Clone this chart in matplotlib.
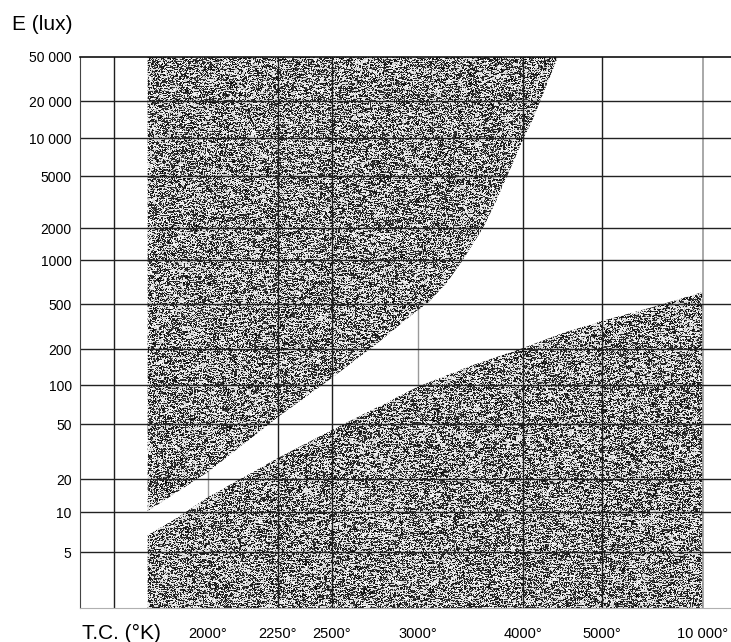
import numpy as np
import matplotlib
matplotlib.use('Agg')
import matplotlib.pyplot as plt
from matplotlib.patches import Polygon
from matplotlib.ticker import FixedLocator, FixedFormatter, NullLocator

plt.rcParams['font.family'] = ['Liberation Sans', 'DejaVu Sans']

# lower edge of the upper shaded zone (too bright / bluish)
upper_T = [1825, 2000, 2250, 2500, 2720, 3000, 3070, 3220, 3360,
           3550, 3675, 3810, 4000, 4100, 4180, 4390]
upper_E = [10.2, 22.5, 56.6, 115, 212, 443, 505, 697, 1000,
           2000, 3080, 5000, 9650, 14000, 19650, 50000]

# upper edge of the lower shaded zone (too dim / dull)
lower_T = [1825, 1905, 2000, 2250, 2500, 3000, 3170, 3425, 4000, 4450,
           5000, 6690, 10000]
lower_E = [6.7, 9.0, 13.7, 28.4, 45.3, 97, 115, 144, 204, 277,
           354, 470, 604]

x_ticks = [2000, 2250, 2500, 3000, 4000, 5000, 10000]
x_labels = ['2000°', '2250°', '2500°', '3000°', '4000°', '5000°', '10 000°']
y_ticks = [5, 10, 20, 50, 100, 200, 500, 1000, 2000, 5000, 10000, 20000, 50000]
y_labels = ['5', '10', '20', '50', '100', '200', '500', '1000', '2000',
            '5000', '10 000', '20 000', '50 000']
extra_vline = 1740

# hand-drawn axes of the original: reciprocal temperature (x) and
# log illuminance (y), not quite evenly spaced -> piecewise scales
xm = np.array([-1000.0, -500.0, -444.44, -400.0, -333.33, -250.0, -200.0, -100.0, 0.0])
xp = np.array([-421.7, 208, 278, 332, 418, 523, 602, 703, 804])
yl = np.array([-1.0, 0.699, 1.0, 1.301, 1.699, 2.0, 2.301, 2.699, 3.0,
               3.301, 3.699, 4.0, 4.301, 4.699, 6.0])
yp = np.array([-170, 56, 96, 129, 184, 223, 259, 304, 348, 380, 432, 470,
               507, 551, 702])


def x_fwd(t):
    t = np.clip(np.asarray(t, dtype=float), 1.0, None)
    return np.interp(-1e6 / t, xm, xp)


def x_inv(p):
    m = np.interp(p, xp, xm)
    return -1e6 / np.minimum(m, -1e-6)


def y_fwd(e):
    e = np.clip(np.asarray(e, dtype=float), 1e-9, None)
    return np.interp(np.log10(e), yl, yp)


def y_inv(p):
    return 10 ** np.interp(p, yp, yl)


fig = plt.figure(figsize=(7.31, 6.42), dpi=100)
ax = fig.add_axes([80 / 731, 34 / 642, 651 / 731, 551 / 642])
ax.set_xscale('function', functions=(x_fwd, x_inv))
ax.set_yscale('function', functions=(y_fwd, y_inv))

# stippled texture for the shaded zones
H, W = 551, 651
rng = np.random.default_rng(7)
streak = rng.random((H, W)) < 0.06
s = streak.copy()
for k in range(1, 4):
    s |= np.roll(streak, k, axis=1)
white = (rng.random((H, W)) < 0.40) | s
tex = np.clip(np.where(white, 0.88, 0.16) + rng.normal(0, 0.08, (H, W)), 0, 1)

x0, x1 = 1662, 13890
y0, y1 = 1.9, 50000

up_poly = [(upper_T[0], y1)] + list(zip(upper_T, upper_E)) + [(upper_T[-1], y1)]
lo_poly = [(lower_T[0], 0.5)] + list(zip(lower_T, lower_E)) + [(lower_T[-1], 0.5)]

for verts in (up_poly, lo_poly):
    patch = Polygon(verts, closed=True, transform=ax.transData,
                    facecolor='none', edgecolor='none')
    ax.add_patch(patch)
    im = ax.imshow(tex, cmap='gray', vmin=0, vmax=1, extent=(0, 1, 0, 1),
                   transform=ax.transAxes, interpolation='nearest',
                   aspect='auto', zorder=1)
    im.set_clip_path(patch)

# grid
for t in [2000, 3000]:
    ax.axvline(t, color='#9a9a9a', lw=1.0, zorder=0.5)
for t in [extra_vline, 2250, 2500, 4000, 5000]:
    ax.axvline(t, color='#1e1e1e', lw=1.0, zorder=3)
ax.axvline(10000, color='#9a9a9a', lw=1.2, zorder=3)
for e in y_ticks[:-1]:
    ax.axhline(e, color='#222222', lw=1.0, zorder=3)

ax.set_xlim(x0, x1)
ax.set_ylim(y0, y1)

ax.xaxis.set_major_locator(FixedLocator(x_ticks))
ax.xaxis.set_major_formatter(FixedFormatter(x_labels))
ax.xaxis.set_minor_locator(NullLocator())
ax.yaxis.set_major_locator(FixedLocator(y_ticks))
ax.yaxis.set_major_formatter(FixedFormatter(y_labels))
ax.yaxis.set_minor_locator(NullLocator())
ax.tick_params(axis='x', length=0, pad=14, labelsize=10.5)
ax.tick_params(axis='y', length=0, pad=6, labelsize=10)

ax.spines['right'].set_visible(False)
ax.spines['top'].set_color('#111111')
ax.spines['top'].set_linewidth(1.2)
ax.spines['left'].set_color('#444444')
ax.spines['bottom'].set_color('#b0b0b0')
for sp in ax.spines.values():
    sp.set_zorder(4)

fig.text(12 / 731, 1 - 24 / 642, 'E (lux)', fontsize=15, va='center', ha='left')
fig.text(82 / 731, 1 - 633 / 642, 'T.C. (°K)', fontsize=15, va='center', ha='left')

fig.savefig('out.png', dpi=100)
